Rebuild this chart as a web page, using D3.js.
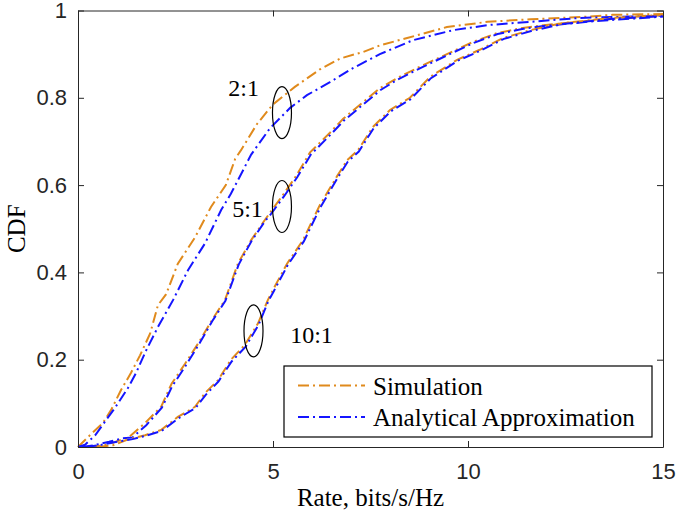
<!DOCTYPE html>
<meta charset="utf-8">
<style>
body { margin: 0; background: #fff; }
.line { fill: none; stroke-width: 2px; stroke-dasharray: 11 4 2 4; }
.axis text { font-family: "Liberation Sans", Arial, sans-serif; font-size: 22px; fill: #262626; }
.axis path, .axis line { stroke: #262626; }
.lbl { font-family: "Liberation Serif", "Times New Roman", serif; fill: #000; }
</style>
<body>
<script src="https://d3js.org/d3.v7.min.js"></script>
<script>

// tick labels
var xTicks = [0, 5, 10, 15];
var yTicks = [0, 0.2, 0.4, 0.6, 0.8, 1];

// 2:1 curves
var sim21Rate = [0, 0.26, 0.64, 0.85, 1.1, 1.36, 1.59, 1.85, 2.05, 2.26, 2.56, 3.0, 3.41, 3.79, 4.03, 4.18, 4.59, 5.0, 5.56, 6.2, 6.72, 7.31, 7.74, 8.44, 9.46, 10.5, 11.6, 12.9, 13.7, 15];
var sim21Cdf  = [0, 0.023, 0.055, 0.085, 0.13, 0.17, 0.21, 0.26, 0.325, 0.35, 0.42, 0.48, 0.55, 0.6, 0.66, 0.68, 0.74, 0.785, 0.825, 0.865, 0.89, 0.905, 0.92, 0.937, 0.962, 0.974, 0.98, 0.985, 0.99, 0.992];
var ana21Rate = [0, 0.18, 0.44, 0.95, 1.28, 1.49, 1.74, 2.05, 2.44, 2.82, 3.26, 3.67, 3.92, 4.44, 4.92, 5.44, 5.87, 6.46, 7.05, 7.74, 8.59, 9.62, 10.56, 11.6, 12.87, 15];
var ana21Cdf  = [0, 0.005, 0.027, 0.09, 0.135, 0.17, 0.22, 0.275, 0.337, 0.405, 0.467, 0.543, 0.58, 0.67, 0.73, 0.777, 0.806, 0.836, 0.868, 0.9, 0.932, 0.955, 0.967, 0.974, 0.983, 0.988];

// 5:1 curves
var sim51Rate = [0.3, 0.6, 0.9, 1.3, 1.72, 2.13, 2.4, 2.74, 3.1, 3.43, 3.77, 4.1, 4.44, 4.79, 4.95, 5.26, 5.6, 5.95, 6.46, 6.8, 7.31, 7.74, 8.18, 8.85, 9.46, 10.13, 10.74, 11.4, 12.0, 13.3, 15];
var sim51Cdf  = [0, 0.003, 0.01, 0.022, 0.055, 0.092, 0.145, 0.19, 0.24, 0.29, 0.337, 0.42, 0.474, 0.52, 0.54, 0.578, 0.622, 0.675, 0.72, 0.752, 0.79, 0.822, 0.845, 0.875, 0.9, 0.928, 0.948, 0.96, 0.967, 0.978, 0.988];
var ana51Rate = [0.1, 0.4, 0.8, 1.15, 1.4, 1.75, 2.15, 2.42, 2.76, 3.12, 3.44, 3.78, 4.12, 4.45, 4.8, 4.95, 5.28, 5.62, 5.97, 6.48, 6.82, 7.33, 7.76, 8.2, 8.87, 9.48, 10.15, 10.76, 11.42, 12.0, 13.3, 15];
var ana51Cdf  = [0, 0.004, 0.012, 0.02, 0.022, 0.05, 0.09, 0.14, 0.186, 0.238, 0.288, 0.335, 0.418, 0.472, 0.518, 0.534, 0.574, 0.618, 0.67, 0.716, 0.748, 0.786, 0.818, 0.842, 0.872, 0.898, 0.926, 0.946, 0.958, 0.965, 0.976, 0.986];

// 10:1 curves
var sim101Rate = [0.5, 0.9, 1.3, 1.72, 2.13, 2.56, 3.0, 3.26, 3.59, 3.92, 4.28, 4.62, 4.87, 5.0, 5.36, 5.77, 6.2, 6.64, 6.9, 7.18, 7.56, 8.0, 8.51, 9.03, 9.72, 10.3, 10.9, 11.6, 12.4, 13.7, 15];
var sim101Cdf  = [0, 0.004, 0.018, 0.027, 0.039, 0.069, 0.092, 0.124, 0.153, 0.2, 0.234, 0.284, 0.337, 0.36, 0.42, 0.474, 0.554, 0.62, 0.657, 0.68, 0.733, 0.772, 0.8, 0.848, 0.887, 0.91, 0.937, 0.955, 0.971, 0.983, 0.99];
var ana101Rate = [0.2, 0.6, 1.0, 1.4, 1.75, 2.15, 2.58, 3.02, 3.28, 3.6, 3.94, 4.3, 4.63, 4.88, 5.02, 5.38, 5.79, 6.22, 6.66, 6.92, 7.2, 7.58, 8.02, 8.53, 9.05, 9.74, 10.32, 10.92, 11.62, 12.42, 13.7, 15];
var ana101Cdf  = [0, 0.005, 0.012, 0.018, 0.026, 0.037, 0.066, 0.09, 0.12, 0.15, 0.196, 0.23, 0.28, 0.334, 0.357, 0.417, 0.471, 0.55, 0.617, 0.654, 0.677, 0.73, 0.769, 0.797, 0.845, 0.885, 0.908, 0.935, 0.953, 0.969, 0.981, 0.987];

var orange = "#E08A1C", blue = "#1515FF";

var margin = {top: 10.5, right: 13, bottom: 66, left: 78},
    width = 676 - margin.left - margin.right,
    height = 513 - margin.top - margin.bottom;

var svg = d3.select("body").append("svg")
    .attr("width", 676)
    .attr("height", 513)
  .append("g")
    .attr("transform", "translate(" + margin.left + "," + margin.top + ")");

var x = d3.scaleLinear().domain([0, 15]).range([0, width]);
var y = d3.scaleLinear().domain([0, 1]).range([height, 0]);

function zip(a, b) { return a.map(function(v, i) { return [v, b[i]]; }); }

var line = d3.line()
    .x(function(d) { return x(d[0]); })
    .y(function(d) { return y(d[1]); });

var series = [
  [sim21Rate, sim21Cdf, orange], [ana21Rate, ana21Cdf, blue],
  [sim51Rate, sim51Cdf, orange], [ana51Rate, ana51Cdf, blue],
  [sim101Rate, sim101Cdf, orange], [ana101Rate, ana101Cdf, blue]
];

series.forEach(function(s) {
  svg.append("path")
      .datum(zip(s[0], s[1]))
      .attr("class", "line")
      .style("stroke", s[2])
      .attr("d", line);
});

// axes (box with inward ticks)
var fmt = function(d) { return d3.format("")(d); };
svg.append("g").attr("class", "axis")
    .attr("transform", "translate(0," + height + ")")
    .call(d3.axisBottom(x).tickValues(xTicks).tickSizeInner(-6).tickSizeOuter(0).tickPadding(16).tickFormat(fmt));
svg.append("g").attr("class", "axis")
    .call(d3.axisLeft(y).tickValues(yTicks).tickSizeInner(-6).tickSizeOuter(0).tickPadding(11).tickFormat(fmt));
svg.append("g").attr("class", "axis")
    .call(d3.axisTop(x).tickValues(xTicks).tickSizeInner(-6).tickSizeOuter(0).tickFormat(""));
svg.append("g").attr("class", "axis")
    .attr("transform", "translate(" + width + ",0)")
    .call(d3.axisRight(y).tickValues(yTicks).tickSizeInner(-6).tickSizeOuter(0).tickFormat(""));

// axis labels
svg.append("text").attr("class", "lbl")
    .attr("x", width / 2).attr("y", height + 59)
    .attr("text-anchor", "middle").style("font-size", "25px")
    .text("Rate, bits/s/Hz");
svg.append("text").attr("class", "lbl")
    .attr("transform", "translate(-53," + (height / 2) + ") rotate(-90)")
    .attr("text-anchor", "middle").style("font-size", "25px")
    .text("CDF");

// ratio annotations
var notes = [
  {t: "2:1", tx: 4.64, ty: 0.804, ex: 5.23, ey: 0.766},
  {t: "5:1", tx: 4.74, ty: 0.527, ex: 5.23, ey: 0.551},
  {t: "10:1", tx: 5.44, ty: 0.238, ex: 4.5, ey: 0.266}
];
notes.forEach(function(n) {
  svg.append("ellipse")
      .attr("cx", x(n.ex)).attr("cy", y(n.ey))
      .attr("rx", 9.5).attr("ry", 26)
      .style("fill", "none").style("stroke", "#000").style("stroke-width", 1.2);
  svg.append("text").attr("class", "lbl")
      .attr("x", x(n.tx)).attr("y", y(n.ty))
      .attr("text-anchor", n.t == "10:1" ? "start" : "end")
      .style("font-size", "24px")
      .text(n.t);
});

// legend
var lg = svg.append("g").attr("transform", "translate(" + (284 - margin.left) + "," + (366 - margin.top) + ")");
lg.append("rect").attr("width", 368).attr("height", 71)
    .style("fill", "#fff").style("stroke", "#000").style("stroke-width", 1.2);
[["Simulation", orange, 19.5, 29], ["Analytical Approximation", blue, 51, 59.5]].forEach(function(l) {
  lg.append("line").attr("class", "line")
      .attr("x1", 14).attr("x2", 81).attr("y1", l[2]).attr("y2", l[2])
      .style("stroke", l[1]);
  lg.append("text").attr("class", "lbl")
      .attr("x", 89).attr("y", l[3])
      .style("font-size", "25px")
      .text(l[0]);
});

</script>
</body>
